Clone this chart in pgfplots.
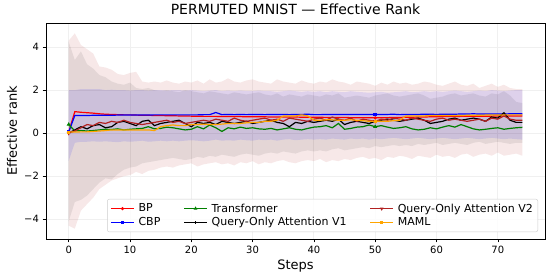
\documentclass[border=0pt]{standalone}
\usepackage{pgfplots}
\pgfplotsset{compat=1.18}
\usepgfplotslibrary{fillbetween}
\usepackage{fontspec}
\setmainfont{DejaVu Sans}
\definecolor{mplgreen}{RGB}{0,128,0}
\definecolor{mplbrown}{RGB}{178,34,34}
\definecolor{mplorange}{RGB}{255,165,0}
\begin{document}
\begin{tikzpicture}
\begin{axis}[
  scale only axis, width=499pt, height=216pt,
  xmin=-3.7, xmax=77.7, ymin=-4.92, ymax=5.12,
  xtick={0,10,20,30,40,50,60,70},
  ytick={-4,-2,0,2,4}, yticklabels={−4,−2,0,2,4},
  /pgf/number format/assume math mode=true,
  tick label style={font=\fontsize{10}{12}\selectfont},
  tick align=outside, tick pos=left, major tick length=3.5pt,
  every tick/.style={black, line width=0.6pt},
  axis line style={line width=0.8pt},
  grid=major, major grid style={black!6, line width=0.8pt},
  title={PERMUTED MNIST — Effective Rank},
  title style={font=\fontsize{14}{16}\selectfont, at={(axis description cs:0.5,1.035)}, anchor=center},
  xlabel={Steps}, ylabel={Effective rank},
  label style={font=\fontsize{13}{15}\selectfont},
  xlabel style={at={(axis description cs:0.5,-0.125)}, anchor=center},
  ylabel style={at={(axis description cs:-0.068,0.5)}, anchor=center},
  legend columns=3, legend cell align=left,
  legend style={at={(axis description cs:0.986,0.032)}, anchor=south east,
    draw=black!20, rounded corners=2pt, fill=white, fill opacity=0.8, text opacity=1,
    font=\fontsize{11}{13}\selectfont, inner xsep=3pt, inner ysep=2.5pt, row sep=0pt,
    /tikz/every odd column/.append style={column sep=2pt},
    /tikz/every even column/.append style={column sep=21pt}},
  legend image code/.code={\draw[#1] (0pt,0pt) -- (23pt,0pt); \draw[#1, only marks] plot coordinates {(11.5pt,0pt)};},
]
% ---- bands ----
\addplot[draw=none, name path=v2hi, forget plot] coordinates {(0,4.30)(1,4.64)(2,4.10)(3,3.90)(4,3.70)(5,3.10)(6,3.05)(7,2.95)(8,2.75)(9,2.70)(10,2.80)(11,2.85)(12,2.40)(13,2.35)(14,2.40)(15,2.35)(16,2.45)(17,2.35)(18,2.30)(19,2.40)(20,2.35)(21,2.45)(22,2.30)(23,2.50)(24,2.35)(25,2.40)(26,2.55)(27,2.40)(28,2.35)(29,2.45)(30,2.50)(31,2.40)(32,2.35)(33,2.30)(34,2.50)(35,2.40)(36,2.35)(37,2.30)(38,2.45)(39,2.35)(40,2.30)(41,2.40)(42,2.35)(43,2.50)(44,2.40)(45,2.35)(46,2.25)(47,2.40)(48,2.35)(49,2.30)(50,2.20)(51,2.35)(52,2.25)(53,2.40)(54,2.30)(55,2.35)(56,2.25)(57,2.30)(58,2.40)(59,2.35)(60,2.25)(61,2.20)(62,2.30)(63,2.40)(64,2.25)(65,2.20)(66,2.30)(67,2.10)(68,2.20)(69,2.30)(70,2.15)(71,2.25)(72,2.10)(73,2.05)(74,2.05)};
\addplot[draw=none, name path=v2lo, forget plot] coordinates {(0,-4.30)(1,-4.44)(2,-3.60)(3,-3.30)(4,-3.00)(5,-2.60)(6,-2.40)(7,-2.20)(8,-2.10)(9,-2.00)(10,-1.95)(11,-1.80)(12,-1.90)(13,-1.75)(14,-1.70)(15,-1.60)(16,-1.55)(17,-1.60)(18,-1.50)(19,-1.45)(20,-1.40)(21,-1.55)(22,-1.45)(23,-1.40)(24,-1.35)(25,-1.45)(26,-1.40)(27,-1.50)(28,-1.35)(29,-1.40)(30,-1.30)(31,-1.45)(32,-1.35)(33,-1.40)(34,-1.30)(35,-1.25)(36,-1.35)(37,-1.40)(38,-1.30)(39,-1.25)(40,-1.30)(41,-1.20)(42,-1.35)(43,-1.25)(44,-1.30)(45,-1.20)(46,-1.25)(47,-1.15)(48,-1.10)(49,-1.20)(50,-1.15)(51,-1.25)(52,-1.10)(53,-1.15)(54,-1.05)(55,-1.10)(56,-1.20)(57,-1.05)(58,-1.10)(59,-1.15)(60,-1.00)(61,-1.10)(62,-1.05)(63,-1.15)(64,-1.00)(65,-0.95)(66,-1.10)(67,-1.00)(68,-0.95)(69,-1.05)(70,-0.90)(71,-1.05)(72,-1.00)(73,-0.95)(74,-1.05)};
\addplot[mplbrown, fill opacity=0.1, forget plot] fill between[of=v2hi and v2lo];
\addplot[draw=none, name path=v1hi, forget plot] coordinates {(0,4.25)(1,3.40)(2,3.80)(3,3.20)(4,3.00)(5,2.70)(6,2.60)(7,2.40)(8,2.30)(9,2.25)(10,2.35)(11,2.10)(12,2.05)(13,2.10)(14,2.00)(15,1.95)(16,2.00)(17,1.95)(18,1.90)(19,2.00)(20,1.95)(21,1.90)(22,1.85)(23,1.95)(24,1.90)(25,1.85)(26,1.80)(27,1.90)(28,1.85)(29,1.80)(30,1.85)(31,1.90)(32,1.80)(33,1.75)(34,1.85)(35,1.70)(36,1.80)(37,1.75)(38,1.70)(39,1.80)(40,1.75)(41,1.70)(42,1.80)(43,1.75)(44,1.85)(45,1.65)(46,1.70)(47,1.75)(48,1.70)(49,1.65)(50,1.75)(51,1.80)(52,1.85)(53,1.75)(54,1.70)(55,1.75)(56,1.80)(57,1.85)(58,1.75)(59,1.60)(60,1.65)(61,1.70)(62,1.80)(63,1.85)(64,1.75)(65,1.80)(66,1.85)(67,1.75)(68,1.70)(69,1.85)(70,1.80)(71,1.95)(72,1.75)(73,1.45)(74,1.40)};
\addplot[draw=none, name path=v1lo, forget plot] coordinates {(0,-4.10)(1,-3.20)(2,-3.10)(3,-2.90)(4,-2.60)(5,-2.30)(6,-2.10)(7,-2.15)(8,-1.90)(9,-1.70)(10,-1.60)(11,-1.55)(12,-1.40)(13,-1.35)(14,-1.30)(15,-1.25)(16,-1.20)(17,-1.15)(18,-1.20)(19,-1.25)(20,-1.20)(21,-1.10)(22,-1.15)(23,-1.05)(24,-1.10)(25,-1.00)(26,-1.05)(27,-1.10)(28,-1.00)(29,-0.95)(30,-1.00)(31,-1.05)(32,-0.95)(33,-0.90)(34,-0.95)(35,-0.85)(36,-0.90)(37,-0.95)(38,-0.85)(39,-0.80)(40,-0.85)(41,-0.80)(42,-0.85)(43,-0.75)(44,-0.70)(45,-0.80)(46,-0.75)(47,-0.70)(48,-0.65)(49,-0.70)(50,-0.60)(51,-0.65)(52,-0.60)(53,-0.55)(54,-0.60)(55,-0.55)(56,-0.60)(57,-0.50)(58,-0.55)(59,-0.50)(60,-0.45)(61,-0.55)(62,-0.50)(63,-0.45)(64,-0.50)(65,-0.55)(66,-0.45)(67,-0.40)(68,-0.50)(69,-0.45)(70,-0.40)(71,-0.45)(72,-0.50)(73,-0.45)(74,-0.45)};
\addplot[black, fill opacity=0.08, forget plot] fill between[of=v1hi and v1lo];
\addplot[draw=none, name path=cbhi, forget plot] coordinates {(0,2.00)(1,2.00)(2,2.05)(3,2.05)(4,2.05)(5,2.05)(6,2.00)(7,2.02)(8,2.00)(9,2.00)(10,1.98)(11,2.00)(12,2.00)(13,1.98)(14,2.00)(15,2.00)(16,1.98)(17,2.00)(18,2.00)(19,1.98)(20,2.00)(21,1.98)(22,1.95)(23,1.98)(24,2.00)(25,1.95)(26,1.98)(27,1.95)(28,1.98)(29,1.95)(30,1.95)(31,1.98)(32,1.95)(33,1.95)(34,1.92)(35,1.95)(36,1.98)(37,1.95)(38,1.92)(39,1.95)(40,1.92)(41,1.95)(42,1.90)(43,1.95)(44,1.92)(45,1.90)(46,1.95)(47,1.92)(48,1.90)(49,1.88)(50,1.90)(51,1.92)(52,1.88)(53,1.90)(54,1.92)(55,1.95)(56,1.90)(57,1.92)(58,1.95)(59,1.92)(60,1.95)(61,1.92)(62,1.95)(63,1.98)(64,1.95)(65,1.92)(66,1.95)(67,1.98)(68,1.95)(69,2.00)(70,1.98)(71,1.95)(72,1.98)(73,2.00)(74,2.00)};
\addplot[draw=none, name path=cblo, forget plot] coordinates {(0,-1.30)(1,-0.45)(2,-0.40)(3,-0.40)(4,-0.38)(5,-0.40)(6,-0.38)(7,-0.40)(8,-0.42)(9,-0.38)(10,-0.40)(11,-0.38)(12,-0.35)(13,-0.40)(14,-0.38)(15,-0.35)(16,-0.38)(17,-0.35)(18,-0.38)(19,-0.35)(20,-0.33)(21,-0.35)(22,-0.38)(23,-0.35)(24,-0.30)(25,-0.35)(26,-0.33)(27,-0.35)(28,-0.30)(29,-0.33)(30,-0.35)(31,-0.30)(32,-0.33)(33,-0.30)(34,-0.35)(35,-0.30)(36,-0.28)(37,-0.33)(38,-0.30)(39,-0.28)(40,-0.30)(41,-0.28)(42,-0.30)(43,-0.25)(44,-0.28)(45,-0.30)(46,-0.25)(47,-0.28)(48,-0.25)(49,-0.30)(50,-0.25)(51,-0.28)(52,-0.25)(53,-0.22)(54,-0.25)(55,-0.28)(56,-0.25)(57,-0.22)(58,-0.25)(59,-0.28)(60,-0.25)(61,-0.22)(62,-0.25)(63,-0.28)(64,-0.25)(65,-0.22)(66,-0.25)(67,-0.28)(68,-0.25)(69,-0.22)(70,-0.25)(71,-0.28)(72,-0.25)(73,-0.28)(74,-0.30)};
\addplot[blue, fill opacity=0.1, forget plot] fill between[of=cbhi and cblo];
% ---- mean lines ----
\addplot[red, line width=1.2pt, mark=*, mark size=0.9pt, mark indices={1,51}, forget plot] coordinates {(0,0.05)(1,1.00)(2,0.97)(3,0.95)(4,0.93)(5,0.90)(6,0.88)(7,0.87)(8,0.86)(9,0.85)(10,0.85)(11,0.84)(12,0.83)(13,0.83)(14,0.82)(15,0.82)(16,0.81)(17,0.81)(18,0.80)(19,0.80)(20,0.79)(21,0.79)(22,0.78)(23,0.78)(24,0.78)(25,0.77)(26,0.77)(27,0.77)(28,0.77)(29,0.76)(30,0.76)(31,0.76)(32,0.76)(33,0.75)(34,0.75)(35,0.75)(36,0.75)(37,0.75)(38,0.74)(39,0.74)(40,0.74)(41,0.74)(42,0.73)(43,0.73)(44,0.73)(45,0.73)(46,0.72)(47,0.72)(48,0.72)(49,0.72)(50,0.71)(51,0.72)(52,0.72)(53,0.73)(54,0.73)(55,0.74)(56,0.74)(57,0.75)(58,0.75)(59,0.76)(60,0.76)(61,0.77)(62,0.77)(63,0.77)(64,0.78)(65,0.78)(66,0.78)(67,0.79)(68,0.79)(69,0.79)(70,0.80)(71,0.80)(72,0.80)(73,0.80)(74,0.80)};
\addplot[blue, line width=1.2pt, mark=square*, mark size=1.2pt, mark indices={1,51}, forget plot] coordinates {(0,0.05)(1,0.82)(2,0.82)(3,0.82)(4,0.83)(5,0.83)(6,0.83)(7,0.83)(8,0.84)(9,0.84)(10,0.84)(11,0.84)(12,0.84)(13,0.84)(14,0.85)(15,0.85)(16,0.85)(17,0.85)(18,0.85)(19,0.85)(20,0.85)(21,0.85)(22,0.86)(23,0.86)(24,0.96)(25,0.86)(26,0.87)(27,0.86)(28,0.87)(29,0.86)(30,0.87)(31,0.87)(32,0.86)(33,0.87)(34,0.87)(35,0.87)(36,0.86)(37,0.87)(38,0.87)(39,0.88)(40,0.86)(41,0.86)(42,0.87)(43,0.87)(44,0.87)(45,0.87)(46,0.87)(47,0.87)(48,0.87)(49,0.87)(50,0.87)(51,0.87)(52,0.87)(53,0.88)(54,0.86)(55,0.87)(56,0.87)(57,0.87)(58,0.88)(59,0.88)(60,0.87)(61,0.88)(62,0.88)(63,0.88)(64,0.89)(65,0.89)(66,0.90)(67,0.89)(68,0.89)(69,0.89)(70,0.89)(71,0.89)(72,0.90)(73,0.90)(74,0.90)};
\addplot[mplgreen, line width=1.2pt, mark=triangle*, mark size=1.2pt, mark indices={1,51}, forget plot] coordinates {(0,0.40)(1,0.10)(2,0.12)(3,0.10)(4,0.12)(5,0.15)(6,0.18)(7,0.17)(8,0.20)(9,0.15)(10,0.18)(11,0.20)(12,0.22)(13,0.30)(14,0.20)(15,0.22)(16,0.28)(17,0.25)(18,0.20)(19,0.15)(20,0.18)(21,0.30)(22,0.20)(23,0.38)(24,0.25)(25,0.08)(26,0.25)(27,0.20)(28,0.28)(29,0.22)(30,0.25)(31,0.20)(32,0.18)(33,0.22)(34,0.15)(35,0.20)(36,0.25)(37,0.18)(38,0.15)(39,0.22)(40,0.28)(41,0.30)(42,0.35)(43,0.25)(44,0.45)(45,0.18)(46,0.22)(47,0.28)(48,0.30)(49,0.38)(50,0.30)(51,0.35)(52,0.28)(53,0.22)(54,0.25)(55,0.30)(56,0.20)(57,0.15)(58,0.18)(59,0.25)(60,0.20)(61,0.28)(62,0.35)(63,0.28)(64,0.40)(65,0.30)(66,0.20)(67,0.15)(68,0.18)(69,0.22)(70,0.25)(71,0.18)(72,0.22)(73,0.25)(74,0.27)};
\addplot[black, line width=1.2pt, mark=+, mark size=1.2pt, mark indices={1,51}, forget plot] coordinates {(0,0.00)(1,0.15)(2,0.30)(3,0.20)(4,0.35)(5,0.40)(6,0.25)(7,0.30)(8,0.50)(9,0.55)(10,0.45)(11,0.35)(12,0.55)(13,0.60)(14,0.35)(15,0.45)(16,0.50)(17,0.55)(18,0.60)(19,0.45)(20,0.30)(21,0.50)(22,0.45)(23,0.50)(24,0.40)(25,0.55)(26,0.50)(27,0.45)(28,0.50)(29,0.55)(30,0.45)(31,0.50)(32,0.55)(33,0.60)(34,0.50)(35,0.45)(36,0.30)(37,0.50)(38,0.45)(39,0.55)(40,0.50)(41,0.55)(42,0.60)(43,0.55)(44,0.65)(45,0.40)(46,0.50)(47,0.55)(48,0.50)(49,0.45)(50,0.55)(51,0.60)(52,0.65)(53,0.60)(54,0.55)(55,0.60)(56,0.65)(57,0.70)(58,0.60)(59,0.45)(60,0.50)(61,0.55)(62,0.65)(63,0.70)(64,0.60)(65,0.65)(66,0.70)(67,0.65)(68,0.55)(69,0.75)(70,0.70)(71,0.95)(72,0.60)(73,0.50)(74,0.50)};
\addplot[mplbrown, line width=1.2pt, mark=triangle*, mark options={rotate=180}, mark size=1.2pt, mark indices={1,51}, forget plot] coordinates {(0,0.00)(1,0.10)(2,0.25)(3,0.40)(4,0.35)(5,0.50)(6,0.45)(7,0.55)(8,0.50)(9,0.60)(10,0.50)(11,0.45)(12,0.40)(13,0.45)(14,0.50)(15,0.55)(16,0.60)(17,0.50)(18,0.55)(19,0.45)(20,0.50)(21,0.55)(22,0.60)(23,0.55)(24,0.65)(25,0.60)(26,0.55)(27,0.70)(28,0.60)(29,0.55)(30,0.60)(31,0.65)(32,0.70)(33,0.60)(34,0.65)(35,0.55)(36,0.70)(37,0.65)(38,0.60)(39,0.55)(40,0.65)(41,0.70)(42,0.60)(43,0.75)(44,0.65)(45,0.60)(46,0.70)(47,0.55)(48,0.65)(49,0.60)(50,0.55)(51,0.65)(52,0.60)(53,0.70)(54,0.65)(55,0.60)(56,0.70)(57,0.65)(58,0.60)(59,0.55)(60,0.65)(61,0.70)(62,0.60)(63,0.65)(64,0.60)(65,0.55)(66,0.60)(67,0.65)(68,0.55)(69,0.70)(70,0.65)(71,0.80)(72,0.65)(73,0.60)(74,0.60)};
\addplot[mplorange, line width=1.2pt, mark=square*, mark size=0.9pt, mark indices={1,51}, forget plot] coordinates {(0,0.05)(1,0.05)(2,0.06)(3,0.06)(4,0.08)(5,0.10)(6,0.12)(7,0.15)(8,0.15)(9,0.15)(10,0.15)(11,0.15)(12,0.15)(13,0.15)(14,0.12)(15,0.30)(16,0.35)(17,0.38)(18,0.35)(19,0.35)(20,0.40)(21,0.40)(22,0.42)(23,0.40)(24,0.40)(25,0.42)(26,0.45)(27,0.45)(28,0.45)(29,0.48)(30,0.50)(31,0.50)(32,0.55)(33,0.55)(34,0.60)(35,0.80)(36,0.80)(37,0.80)(38,0.85)(39,0.80)(40,0.60)(41,0.60)(42,0.62)(43,0.62)(44,0.60)(45,0.60)(46,0.62)(47,0.60)(48,0.58)(49,0.55)(50,0.55)(51,0.55)(52,0.55)(53,0.58)(54,0.60)(55,0.80)(56,0.80)(57,0.80)(58,0.80)(59,0.82)(60,0.82)(61,0.82)(62,0.82)(63,0.82)(64,0.82)(65,0.83)(66,0.83)(67,0.83)(68,0.84)(69,0.84)(70,0.84)(71,0.85)(72,0.85)(73,0.85)(74,0.85)};
% ---- legend (row-wise order to mimic column-wise fill) ----
\addlegendimage{red, line width=1.2pt, mark=*, mark size=0.9pt}
\addlegendentry{BP}
\addlegendimage{mplgreen, line width=1.2pt, mark=triangle*, mark size=1pt}
\addlegendentry{Transformer}
\addlegendimage{mplbrown, line width=1.2pt, mark=triangle*, mark options={rotate=180}, mark size=1pt}
\addlegendentry{Query-Only Attention V2}
\addlegendimage{blue, line width=1.2pt, mark=square*, mark size=1pt}
\addlegendentry{CBP}
\addlegendimage{black, line width=1.2pt, mark=+, mark size=1.2pt}
\addlegendentry{Query-Only Attention V1}
\addlegendimage{mplorange, line width=1.2pt, mark=square*, mark size=0.9pt}
\addlegendentry{MAML}
\coordinate (SW) at (rel axis cs:0,0);
\coordinate (NE) at (rel axis cs:1,1);
\end{axis}
\pgfresetboundingbox
\path ([xshift=-46pt,yshift=-41pt]SW) rectangle ([xshift=5pt,yshift=23pt]NE);
\end{tikzpicture}
\end{document}
